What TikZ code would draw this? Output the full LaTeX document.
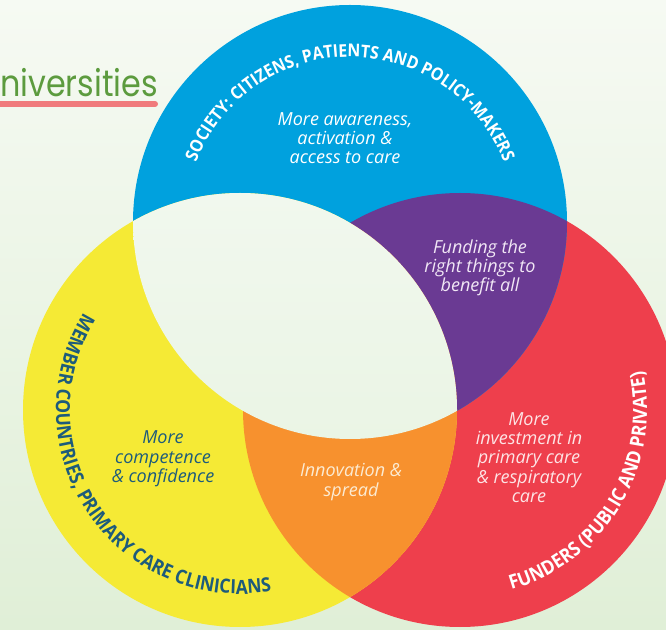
\documentclass[tikz,border=0pt]{standalone}
\usepackage{fontspec}
\setmainfont{Open Sans}
\newfontfamily\headfont{Poppins}
\newfontfamily\ringfont{Open Sans}[FakeStretch=0.9]
\usetikzlibrary{calc}
\usetikzlibrary{decorations.text}

\definecolor{societyblue}{HTML}{00A1DE}
\definecolor{memberyellow}{HTML}{F5EA35}
\definecolor{funderred}{HTML}{EE3F4C}
\definecolor{fundpurple}{HTML}{6A3A93}
\definecolor{innoorange}{HTML}{F7912E}
\definecolor{darkteal}{HTML}{1D5B7B}
\definecolor{headgreen}{HTML}{5C9B3E}
\definecolor{headline}{HTML}{F07B7C}
\definecolor{bgtop}{HTML}{F6FAF3}
\definecolor{bgbot}{HTML}{E0EFD7}
\definecolor{lenstop}{HTML}{F1F8EE}
\definecolor{lensbot}{HTML}{E5F2DE}
\definecolor{purpletxt}{HTML}{F1E7F5}
\definecolor{orangetxt}{HTML}{FCEBD2}
\definecolor{redtxt}{HTML}{FDE4E5}

\begin{document}
\begin{tikzpicture}
[
    x=1pt, y=1pt,
    inner/.style={align=center, inner sep=0pt, font=\fontsize{18}{19.3}\selectfont\itshape}, % inner = text inside a region
]
\useasboundingbox (0,0) rectangle (666,629);
\clip (0,0) rectangle (666,629);
\shade[top color=bgtop, bottom color=bgbot] (0,0) rectangle (666,629);

% centres of the three circles
\coordinate (bc) at (350,407);
\coordinate (yc) at (240,219);
\coordinate (rc) at (460,219);
\def\rad{217pt}

\fill[funderred] (rc) circle (\rad);
\fill[societyblue] (bc) circle (\rad);
\fill[memberyellow] (yc) circle (\rad);

% overlaps
\begin{scope}
  \clip (bc) circle (\rad);
  \fill[fundpurple] (rc) circle (\rad);
\end{scope}
\begin{scope}
  \clip (yc) circle (\rad);
  \fill[innoorange] (rc) circle (\rad);
\end{scope}
\begin{scope}
  \clip (bc) circle (\rad);
  \shade[top color=lenstop, bottom color=lensbot] (yc) circle (\rad);
\end{scope}

% ring labels
\path[decorate, decoration={text along path, text align=center,
    text={|\ringfont\fontsize{17.6}{17.6}\selectfont\bfseries\color{white}|SOCIETY: CITIZENS, PATIENTS AND POLICY-MAKERS}}]
  ($(bc)+(170:165pt)$) arc[start angle=170, end angle=10, radius=165pt];
\path[decorate, decoration={text along path, text align=center,
    text={|\ringfont\fontsize{19.5}{19.5}\selectfont\bfseries\color{darkteal}|MEMBER COUNTRIES, PRIMARY CARE CLINICIANS}}]
  ($(yc)+(114:184pt)$) arc[start angle=114, end angle=314, radius=184pt];
\path[decorate, decoration={text along path, text align=center,
    text={|\ringfont\fontsize{19.5}{19.5}\selectfont\bfseries\color{white}|FUNDERS (PUBLIC AND PRIVATE)}}]
  ($(rc)+(-101:187pt)$) arc[start angle=-101, end angle=39, radius=187pt];

% region texts
\node[inner, text=white] (aware) at (345,491) {More awareness,\\activation \&\\access to care};
\node[inner, text=purpletxt] (fund) at (480,361) {Funding the\\right things to\\benefit all};
\node[inner, text=darkteal] (comp) at (163,170) {More\\competence\\\& confidence};
\node[inner, text=orangetxt] (innov) at (351,147) {Innovation \&\\spread};
\node[inner, text=redtxt] (invest) at (529,171.5) {More\\investment in\\primary care\\\& respiratory\\care};

% heading cut at the left edge
\node[anchor=base west, inner sep=0pt, text=headgreen, font=\headfont\fontsize{37}{37}\selectfont,
      xscale=0.86, transform shape] (uni) at (0,532) {niversities};
\draw[headline, line width=6pt, line cap=round] (-4,525) -- (155,525);
\end{tikzpicture}
\end{document}
